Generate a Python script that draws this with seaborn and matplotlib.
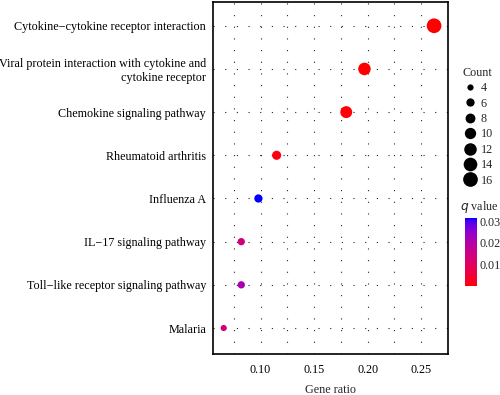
import matplotlib
matplotlib.use("Agg")
import matplotlib.pyplot as plt
import numpy as np
import pandas as pd
import seaborn as sns
from matplotlib.colors import LinearSegmentedColormap, Normalize
from matplotlib.lines import Line2D

# KEGG enrichment values
pathways = [
    "Cytokine\u2212cytokine receptor interaction",
    "Viral protein interaction with cytokine and\ncytokine receptor",
    "Chemokine signaling pathway",
    "Rheumatoid arthritis",
    "Influenza A",
    "IL\u221217 signaling pathway",
    "Toll\u2212like receptor signaling pathway",
    "Malaria",
]
gene_ratio = [0.262, 0.197, 0.180, 0.115, 0.098, 0.082, 0.082, 0.0656]
counts = [16, 12, 11, 7, 6, 5, 5, 4]
q_values = [0.000001, 0.0001, 0.0004, 0.0012, 0.0314, 0.0142, 0.0212, 0.0138]

size_breaks = [4, 6, 8, 10, 12, 14, 16]
q_ticks = [0.01, 0.02, 0.03]

SERIF = "Liberation Serif"
FS = 8.7


def _srgb_to_lab(rgb):
    c = np.asarray(rgb, float)
    c = np.where(c <= 0.04045, c / 12.92, ((c + 0.055) / 1.055) ** 2.4)
    m = np.array([[0.4124, 0.3576, 0.1805],
                  [0.2126, 0.7152, 0.0722],
                  [0.0193, 0.1192, 0.9505]])
    xyz = m @ c / np.array([0.95047, 1.0, 1.08883])
    f = np.where(xyz > 0.008856, np.cbrt(xyz), 7.787 * xyz + 16 / 116)
    return np.array([116 * f[1] - 16, 500 * (f[0] - f[1]), 200 * (f[1] - f[2])])


def _lab_to_srgb(lab):
    fy = (lab[0] + 16) / 116
    f = np.array([fy + lab[1] / 500, fy, fy - lab[2] / 200])
    xyz = np.where(f ** 3 > 0.008856, f ** 3, (f - 16 / 116) / 7.787)
    xyz = xyz * np.array([0.95047, 1.0, 1.08883])
    m = np.array([[3.2406, -1.5372, -0.4986],
                  [-0.9689, 1.8758, 0.0415],
                  [0.0557, -0.2040, 1.0570]])
    c = m @ xyz
    c = np.where(c <= 0.0031308, 12.92 * c, 1.055 * np.clip(c, 0, None) ** (1 / 2.4) - 0.055)
    return np.clip(c, 0, 1)


# red -> blue gradient interpolated in Lab, like ggplot's scale_colour_gradient
lab_lo, lab_hi = _srgb_to_lab([1, 0, 0]), _srgb_to_lab([0, 0, 1])
stops = [_lab_to_srgb(lab_lo + t * (lab_hi - lab_lo)) for t in np.linspace(0, 1, 21)]
cmap = LinearSegmentedColormap.from_list("red_blue_lab", stops)
q_norm = Normalize(vmin=min(q_values), vmax=max(q_values))

df = pd.DataFrame({
    "pathway": pathways,
    "ratio": gene_ratio,
    "count": counts,
    "q": q_values,
})

sns.set_style("white")
plt.rcParams["font.family"] = [SERIF, "DejaVu Serif"]

fig = plt.figure(figsize=(5.0, 3.95), dpi=100)
ax = fig.add_axes([0.426, 0.104, 0.47, 0.892])

size_range = (20, 112)
sns.scatterplot(
    data=df, x="ratio", y="pathway",
    hue="q", hue_norm=q_norm, palette=cmap,
    size="count", size_norm=(4, 16), sizes=size_range,
    linewidth=0, legend=False, ax=ax, zorder=3,
)

ax.set_xlim(0.0556, 0.2725)
ax.set_ylim(len(pathways) - 0.4, -0.56)
ax.set_xticks([0.10, 0.15, 0.20, 0.25])
ax.set_xticks([0.075, 0.125, 0.175, 0.225, 0.275], minor=True)
ax.set_xticklabels(["0.10", "0.15", "0.20", "0.25"])

dots = dict(color="0.15", linewidth=0.8, linestyle=(0, (1.0, 9.5)))
ax.grid(True, which="major", **dots)
ax.grid(True, which="minor", axis="x", **dots)
ax.set_axisbelow(True)

for side in ax.spines.values():
    side.set_color("black")
    side.set_linewidth(1.2)

ax.tick_params(axis="both", which="major", length=3, width=0.8, color="black",
               labelsize=FS, labelcolor="black")
ax.tick_params(axis="y", pad=2)
ax.tick_params(axis="x", pad=4)
ax.tick_params(axis="x", which="minor", length=0)
ax.set_xlabel("Gene ratio", fontsize=FS, labelpad=6)
ax.set_ylabel("")

# size legend
smin, smax = size_range
handles = [
    Line2D([], [], linestyle="", marker="o", color="black", markeredgewidth=0,
           markersize=np.sqrt(smin + (b - 4) / 12 * (smax - smin)))
    for b in size_breaks
]
fig.legend(
    handles, [str(b) for b in size_breaks], title="Count",
    loc="upper left", bbox_to_anchor=(0.912, 0.843),
    frameon=False, fontsize=FS, title_fontsize=FS,
    labelspacing=0.28, handletextpad=0.15, handlelength=1.5, borderaxespad=0,
)

# q value colorbar
cax = fig.add_axes([0.929, 0.276, 0.024, 0.172])
sm = plt.cm.ScalarMappable(norm=q_norm, cmap=cmap)
cb = fig.colorbar(sm, cax=cax, ticks=q_ticks)
cb.outline.set_visible(False)
cb.ax.tick_params(length=2.5, width=0.8, color="white", direction="in",
                  labelsize=FS, pad=2)
cb.ax.set_yticklabels([f"{t:.2f}" for t in q_ticks])
fig.text(0.92, 0.455, "$q$ value", fontsize=FS, ha="left", va="bottom")

fig.savefig("out.png", dpi=100)
